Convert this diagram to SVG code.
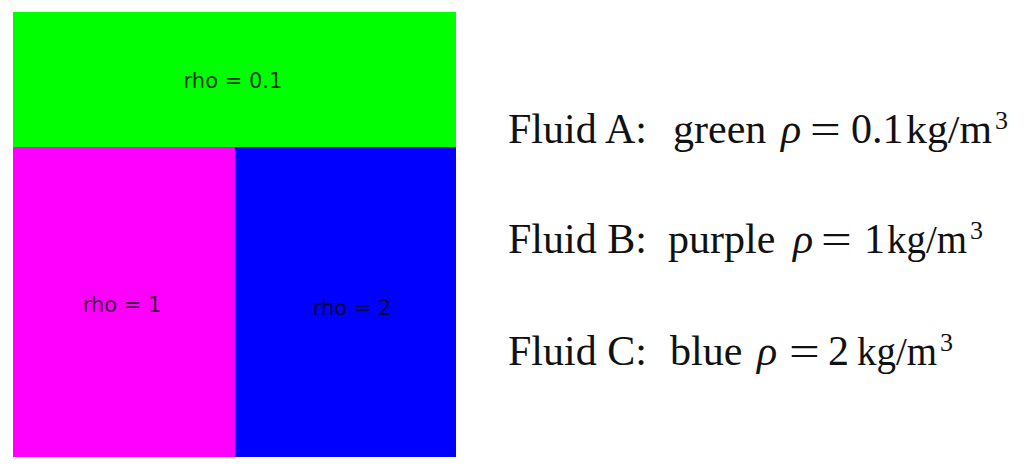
<svg xmlns="http://www.w3.org/2000/svg" width="1024" height="475" viewBox="0 0 1024 475">
<style>
.lbl{font-family:"DejaVu Sans",sans-serif;font-size:21px;fill:#000;fill-opacity:0.78;text-anchor:middle}
.eq{font-family:"Liberation Serif","Times New Roman",serif;font-size:42px;fill:#111}
.it{font-style:italic}
.u{font-size:40px}
.sup{font-size:26px}
</style>
<rect width="1024" height="475" fill="#fff"/>
<g id="fluidA">
<rect x="13" y="12" width="443" height="135" fill="#00ff00"/>
<text class="lbl" x="233" y="88">rho = 0.1</text>
</g>
<g id="fluidB">
<rect x="13" y="147" width="222" height="310" fill="#ff00ff"/>
<text class="lbl" x="122" y="312">rho = 1</text>
</g>
<g id="fluidC">
<rect x="235" y="147" width="221" height="310" fill="#0000ff"/>
<text class="lbl" x="352" y="315">rho = 2</text>
</g>
<g id="connectors"></g>
<g id="legendA">
<text class="eq" x="508" y="143">Fluid A:</text>
<text class="eq" x="673" y="143">green</text>
<text class="eq it" x="781" y="143">ρ</text>
<text class="eq" transform="translate(810,143) scale(1.3,1)">=</text>
<text class="eq" x="851" y="143">0.1</text>
<text class="eq u" x="906" y="143" textLength="86" lengthAdjust="spacingAndGlyphs">kg/m</text>
<text class="eq sup" x="995" y="129">3</text>
</g>
<g id="legendB">
<text class="eq" x="508" y="253">Fluid B:</text>
<text class="eq" x="668" y="253">purple</text>
<text class="eq it" x="793" y="253">ρ</text>
<text class="eq" transform="translate(821,253) scale(1.3,1)">=</text>
<text class="eq" x="864" y="253">1</text>
<text class="eq u" x="887" y="253" textLength="80" lengthAdjust="spacingAndGlyphs">kg/m</text>
<text class="eq sup" x="970" y="239">3</text>
</g>
<g id="legendC">
<text class="eq" x="508" y="365">Fluid C:</text>
<text class="eq" x="670" y="365">blue</text>
<text class="eq it" x="757" y="365">ρ</text>
<text class="eq" transform="translate(789,365) scale(1.3,1)">=</text>
<text class="eq" x="828" y="365">2</text>
<text class="eq u" x="857" y="365" textLength="80" lengthAdjust="spacingAndGlyphs">kg/m</text>
<text class="eq sup" x="940" y="351">3</text>
</g>
</svg>
